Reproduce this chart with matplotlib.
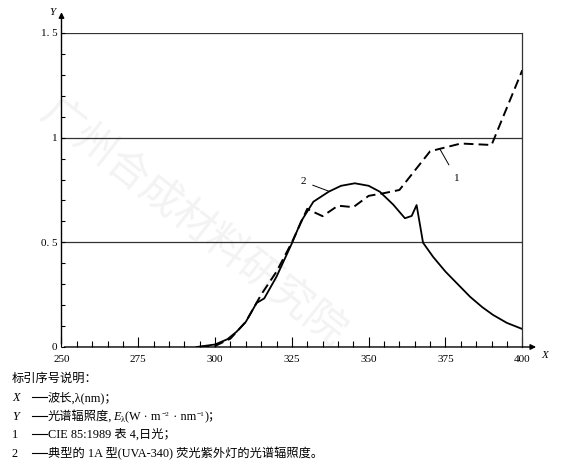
import matplotlib.pyplot as plt
from matplotlib.ticker import MultipleLocator

# curve 1: CIE 85:1989 table 4, daylight (dashed)
wl_sun = [295, 300, 305, 310, 315, 320, 325, 330, 331, 335, 340, 345, 350, 355, 360, 370, 380, 390, 400]
e_sun = [0.0, 0.005, 0.04, 0.12, 0.25, 0.36, 0.50, 0.66, 0.652, 0.625, 0.675, 0.668, 0.722, 0.735, 0.75, 0.935, 0.972, 0.965, 1.322]

# curve 2: UVA-340 lamp (solid)
wl_lamp = [294, 300, 304, 307, 310, 313.5, 316, 320, 325, 328, 332, 337, 341, 345.5, 350, 353.6, 358,
           361.8, 364, 365.6, 367.7, 371, 375, 379, 383, 387, 390.5, 395, 400]
e_lamp = [0.0, 0.012, 0.037, 0.073, 0.12, 0.21, 0.232, 0.336, 0.495, 0.6, 0.694, 0.742, 0.77, 0.782, 0.77,
          0.742, 0.68, 0.615, 0.626, 0.678, 0.498, 0.43, 0.36, 0.30, 0.24, 0.19, 0.153, 0.115, 0.086]

xticks = [250, 275, 300, 325, 350, 375, 400]
yticks = [0, 0.5, 1, 1.5]
ytick_labels = ['0', '0. 5', '1', '1. 5']

# key lines: (key, italic key?, pieces of the description)
legend_title = '标引序号说明：'
legend_lines = [
    ('X', True, [('波长,λ(nm)；', None)]),
    ('Y', True, [('光谱辐照度,', None), ('E', 'it'), ('λ', 'sub'), ('(W · m', None), ('−2', 'sup'),
                 (' · nm', None), ('−1', 'sup'), (')；', None)]),
    ('1', False, [('CIE 85:1989 表 4,日光；', None)]),
    ('2', False, [('典型的 1A 型(UVA-340) 荧光紫外灯的光谱辐照度。', None)]),
]

FAM = ['Liberation Serif', 'Noto Sans CJK SC', 'DejaVu Sans']
plt.rcParams['font.family'] = FAM

fig = plt.figure(figsize=(5.84, 4.66), dpi=100)
ax = fig.add_axes([0.1053, 0.2554, 0.7890, 0.6738])
W, H = 584, 466

# faint watermark, behind the lines
ax.text(0.33, 0.52, '广州合成材料研究院', transform=fig.transFigure, fontsize=30, color='#f3f3f3',
        rotation=-38, ha='center', va='center', family=['Noto Sans CJK SC'], zorder=0, clip_on=False)

for yv in [0.5, 1, 1.5]:
    ax.axhline(yv, color='#333333', lw=0.9, zorder=1)

ax.plot(wl_sun, e_sun, color='black', lw=1.4, dashes=(5, 2.6), zorder=3)
ax.plot(wl_lamp, e_lamp, color='black', lw=1.3, zorder=3)

ax.set_xlim(250, 400)
ax.set_ylim(0, 1.5)

ax.spines['top'].set_visible(False)
ax.spines['left'].set_visible(False)
ax.spines['bottom'].set_visible(False)
ax.spines['right'].set_linewidth(0.9)
ax.spines['right'].set_color('#333333')

# axis arrows
ax.annotate('', xy=(0, 1.075), xytext=(0, 0), xycoords='axes fraction',
            arrowprops=dict(arrowstyle='-|>', color='black', lw=1.0, mutation_scale=8))
ax.annotate('', xy=(1.036, 0), xytext=(0, 0), xycoords='axes fraction',
            arrowprops=dict(arrowstyle='-|>', color='black', lw=1.0, mutation_scale=8))

ax.set_xticks(xticks)
ax.set_xticklabels([str(v) for v in xticks])
ax.set_yticks(yticks)
ax.set_yticklabels(ytick_labels)
ax.xaxis.set_minor_locator(MultipleLocator(5))
ax.yaxis.set_minor_locator(MultipleLocator(0.1))
ax.tick_params(axis='x', which='major', direction='in', length=7, width=0.8, pad=6, labelsize=8)
ax.tick_params(axis='x', which='minor', direction='in', length=4, width=0.8)
ax.tick_params(axis='y', which='major', direction='in', length=3, width=0.8, pad=3, labelsize=8)
ax.tick_params(axis='y', which='minor', direction='in', length=3, width=0.8)
ax.tick_params(right=False, which='both')

ax.text(1.042, -0.028, 'X', transform=ax.transAxes, fontsize=8, style='italic', va='center', ha='left')
ax.text(-0.012, 1.065, 'Y', transform=ax.transAxes, fontsize=8, style='italic', va='center', ha='right')

# curve labels with leader lines
ax.annotate('2', xy=(337.4, 0.742), xytext=(328.7, 0.79), fontsize=8, ha='center', va='center',
            arrowprops=dict(arrowstyle='-', color='black', lw=0.7, shrinkA=3, shrinkB=0))
ax.annotate('1', xy=(373.2, 0.945), xytext=(378.6, 0.806), fontsize=8, ha='center', va='center',
            arrowprops=dict(arrowstyle='-', color='black', lw=0.7, shrinkA=5, shrinkB=0))

# key below the chart
renderer = fig.canvas.get_renderer()
FS = 8.8


def put(xpx, ypx, txt, size=FS, style='normal'):
    t = fig.text(xpx / W, 1 - ypx / H, txt, fontsize=size, style=style,
                 va='baseline', ha='left', family=FAM)
    return t.get_window_extent(renderer).x1 + 0.5


put(12, 382, legend_title)
ys = [401, 420, 438, 457]
for (key, key_it, pieces), ypx in zip(legend_lines, ys):
    put(12, ypx, key, style='italic' if key_it else 'normal')
    fig.add_artist(plt.Line2D([32 / W, 47 / W], [1 - (ypx - 4) / H] * 2, color='black', lw=0.8))
    xpx = 48
    for txt, kind in pieces:
        if kind == 'it':
            xpx = put(xpx, ypx, txt, style='italic')
        elif kind == 'sub':
            xpx = put(xpx, ypx + 2, txt, size=5.8)
        elif kind == 'sup':
            xpx = put(xpx, ypx - 4, txt, size=5.3)
        else:
            xpx = put(xpx, ypx, txt)

fig.savefig('out.png', dpi=100)
